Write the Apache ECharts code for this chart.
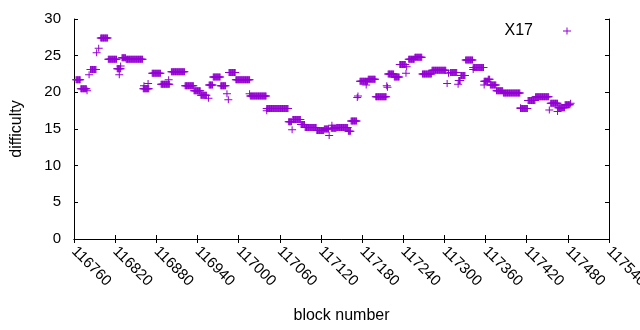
<!DOCTYPE html>
<html>
<head>
<meta charset="utf-8">
<script src="https://cdn.jsdelivr.net/npm/echarts@6/dist/echarts.min.js"></script>
<style>
html,body{margin:0;padding:0;background:#fff;}
#chart{width:640px;height:330px;}
</style>
</head>
<body>
<div id="chart"></div>
<script>
// Difficulty runs: [first block, last block, difficulty]
var runStart = [116763,116770,116784,116799,116810,116823,116830,116836,116861,116874,116887,116902,116922,116935,116945,116957,116963,116974,116986,116996,117017,117041,117073,117079,117091,117097,117114,117125,117135,117143,117160,117164,117177,117189,117200,117218,117227,117235,117248,117257,117268,117282,117309,117321,117324,117331,117342,117358,117364,117367,117376,117386,117411,117422,117433,117455,117466,117476];
var runEnd   = [116769,116778,116792,116809,116822,116828,116835,116860,116869,116886,116899,116921,116934,116944,116953,116962,116973,116981,116995,117016,117040,117072,117077,117090,117096,117113,117124,117131,117142,117159,117163,117172,117188,117199,117215,117226,117234,117243,117256,117267,117281,117302,117318,117323,117330,117341,117357,117363,117366,117375,117385,117410,117421,117432,117452,117465,117475,117483];
var runValue = [21.7,20.5,23.1,27.4,24.5,23.2,24.7,24.5,20.5,22.6,21.1,22.8,20.9,20.2,19.6,21.0,22.1,20.9,22.7,21.7,19.5,17.8,16.0,16.3,15.6,15.2,14.8,15.0,15.1,15.2,14.7,16.1,21.5,21.8,19.4,22.5,22.1,23.8,24.5,24.8,22.5,23.0,22.7,21.6,22.3,24.4,23.4,21.5,21.8,21.0,20.2,19.9,17.8,18.9,19.4,18.5,17.9,18.3];
// Isolated blocks
var outBlock = [116779,116782,116793,116796,116826,116828,116862,116868,116898,116956,116983,116985,117016,117041,117078,117132,117136,117173,117174,117186,117216,117217,117244,117245,117304,117306,117320,117342,117358,117411,117453,117465,117484];
var outValue = [20.2,22.4,25.4,26.0,22.4,23.6,20.9,21.2,21.7,19.2,19.8,19.0,19.8,17.5,14.9,14.1,15.5,19.3,19.5,21.0,20.9,20.7,22.6,23.5,21.2,22.6,21.1,23.1,21.0,17.9,17.6,17.4,18.5];
var xTicks = {min:116760, max:117540, interval:60};
var yTicks = {min:0, max:30, interval:5};
var seriesName = 'X17';

var data = [];
for (var i = 0; i < runStart.length; i++) {
  for (var b = runStart[i]; b <= runEnd[i]; b++) data.push([b, runValue[i]]);
}
for (var j = 0; j < outBlock.length; j++) data.push([outBlock[j], outValue[j]]);

var FONT = 'Liberation Sans';
var plus = 'path://M0,3H8V4H0Z M3.5,0H4.5V7H3.5Z';
var axisCommon = {
  axisLine:{show:true, lineStyle:{color:'#000', width:1}},
  axisTick:{show:true, inside:true, length:4, lineStyle:{color:'#000', width:1}},
  splitLine:{show:false}
};
var plain = function (v) { return String(v); };
var chart = echarts.init(document.getElementById('chart'), null, {renderer:'canvas'});
chart.setOption({
  animation:false,
  backgroundColor:'#fff',
  grid:{left:74, top:19, right:31, bottom:91, containLabel:false, outerBoundsMode:'none'},
  legend:{
    data:[seriesName], right:69, top:23, padding:0, align:'right',
    itemWidth:8, itemHeight:7,
    textStyle:{fontFamily:FONT, fontSize:16, color:'#000', padding:[0,25,0,0]}
  },
  xAxis:[
    Object.assign({type:'value', position:'bottom', min:xTicks.min, max:xTicks.max, interval:xTicks.interval,
      name:'block number', nameLocation:'middle', nameGap:69,
      nameTextStyle:{fontFamily:FONT, fontSize:16, color:'#000'},
      axisLabel:{rotate:-45, margin:10, fontFamily:FONT, fontSize:15, color:'#000', formatter:plain, showMaxLabel:true, showMinLabel:true}
    }, axisCommon),
    Object.assign({type:'value', position:'top', min:xTicks.min, max:xTicks.max, interval:xTicks.interval,
      axisLabel:{show:false}}, axisCommon)
  ],
  yAxis:[
    Object.assign({type:'value', position:'left', min:yTicks.min, max:yTicks.max, interval:yTicks.interval,
      name:'difficulty', nameLocation:'middle', nameGap:49,
      nameTextStyle:{fontFamily:FONT, fontSize:16, color:'#000'},
      axisLabel:{margin:13, fontFamily:FONT, fontSize:15, color:'#000', formatter:plain}
    }, axisCommon),
    Object.assign({type:'value', position:'right', min:yTicks.min, max:yTicks.max, interval:yTicks.interval,
      axisLabel:{show:false}}, axisCommon)
  ],
  series:[{
    name:seriesName, type:'scatter', data:data,
    symbol:plus, symbolSize:[8,7],
    itemStyle:{color:'#9400D3', opacity:1},
    large:false
  }]
});
</script>
</body>
</html>
